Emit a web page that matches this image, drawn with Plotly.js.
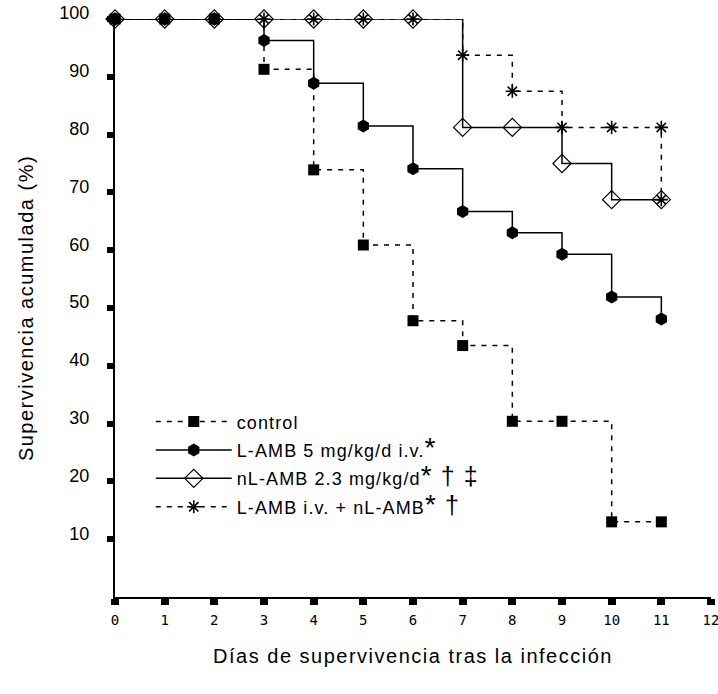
<!DOCTYPE html>
<html>
<head>
<meta charset="utf-8">
<script src="https://cdn.plot.ly/plotly-3.0.1.min.js"></script>
<style>
html,body{margin:0;padding:0;background:#fff}
.legendtext{letter-spacing:1.1px}
.xtitle,.ytitle{letter-spacing:1.5px}
</style>
</head>
<body>
<div id="chart" style="width:718px;height:694px"></div>
<script>
// Cumulative survival (%) per day after infection, one array per group
const days = [0, 1, 2, 3, 4, 5, 6, 7, 8, 9, 10, 11];
const daysCombo = [0, 1, 2, 3, 4, 5, 6, 7, 8, 9, 10, 11, 11];
const control = [100, 100, 100, 91.3, 73.9, 60.9, 47.8, 43.5, 30.4, 30.4, 13.0, 13.0];
const lamb5 = [100, 100, 100, 96.3, 88.9, 81.5, 74.1, 66.7, 63.0, 59.3, 51.9, 48.1];
const nlamb = [100, 100, 100, 100, 100, 100, 100, 81.25, 81.25, 75.0, 68.75, 68.75];
const combo = [100, 100, 100, 100, 100, 100, 100, 93.75, 87.5, 81.25, 81.25, 81.25, 68.75];

// significance marks shown after the group names: a large raised asterisk, then daggers
const star = '<span style="font-size:28px">*</span>';
const dag = s => '<span style="font-size:25px">' + s + '</span>';
const seriesNames = [
  'control',
  'L-AMB 5 mg/kg/d i.v.' + star,
  'nL-AMB 2.3 mg/kg/d' + star + dag(' † ‡'),
  'L-AMB i.v. + nL-AMB' + star + dag(' †')
];
const xTicks = [0, 1, 2, 3, 4, 5, 6, 7, 8, 9, 10, 11, 12];
const yTicks = [10, 20, 30, 40, 50, 60, 70, 80, 90, 100];

const FONT = 'Liberation Sans, Arial, sans-serif';
const dashPattern = '5px,6px';

function stepTrace(x, y, name, rank, dash, marker) {
  return {
    x: x, y: y, name: name, type: 'scatter', mode: 'lines+markers',
    line: {shape: 'hv', color: '#000', width: 1.5, dash: dash},
    marker: marker, cliponaxis: false,
    legendrank: rank, legendgroup: 'g' + rank
  };
}

// drawn bottom-up so the square and filled markers sit on top
const traces = [
  stepTrace(days, nlamb, seriesNames[2], 3, 'solid',
    {symbol: 'diamond-open', size: 14, color: '#000', line: {width: 1.2, color: '#000'}}),
  stepTrace(daysCombo, combo, seriesNames[3], 4, dashPattern,
    {symbol: 'asterisk-open', size: 11, color: '#000', line: {width: 1.6, color: '#000'}}),
  stepTrace(days, lamb5, seriesNames[1], 2, 'solid',
    {symbol: 'hexagon', size: 13, color: '#000', line: {width: 0}}),
  stepTrace(days, control, seriesNames[0], 1, dashPattern,
    {symbol: 'square', size: 11, color: '#000', line: {width: 0}})
];

const layout = {
  width: 718, height: 694,
  margin: {l: 115, r: 7, t: 19, b: 97},
  paper_bgcolor: '#fff', plot_bgcolor: '#fff',
  font: {family: FONT, color: '#000', size: 18},
  showlegend: true,
  legend: {
    x: 0.06, y: 0.335, xanchor: 'left', yanchor: 'top',
    bgcolor: 'rgba(0,0,0,0)', borderwidth: 0,
    font: {family: FONT, size: 18, color: '#000'},
    itemwidth: 76, tracegroupgap: 2, traceorder: 'grouped'
  },
  xaxis: {
    range: [0, 12], tickvals: xTicks, ticktext: xTicks.map(String),
    showline: true, linewidth: 2, linecolor: '#000',
    ticks: 'outside', ticklen: 6, tickwidth: 8, tickcolor: '#000',
    showgrid: false, zeroline: false, ticklabeloverflow: 'allow',
    tickfont: {family: 'DejaVu Sans Mono, monospace', size: 14, color: '#000'},
    ticklabelstandoff: 3,
    title: {text: 'Días de supervivencia tras la infección', font: {family: FONT, size: 20}, standoff: 22}
  },
  yaxis: {
    range: [0, 100], tickvals: yTicks, ticktext: yTicks.map(String),
    showline: true, linewidth: 2, linecolor: '#000',
    ticks: 'outside', ticklen: 6, tickwidth: 6, tickcolor: '#000',
    showgrid: false, zeroline: false,
    tickfont: {family: FONT, size: 18, color: '#000'},
    ticklabelstandoff: 14, ticklabelshift: -6,
    title: {text: 'Supervivencia acumulada (%)', font: {family: FONT, size: 20}, standoff: 20}
  }
};

Plotly.newPlot('chart', traces, layout, {staticPlot: true, displayModeBar: false});
</script>
</body>
</html>
